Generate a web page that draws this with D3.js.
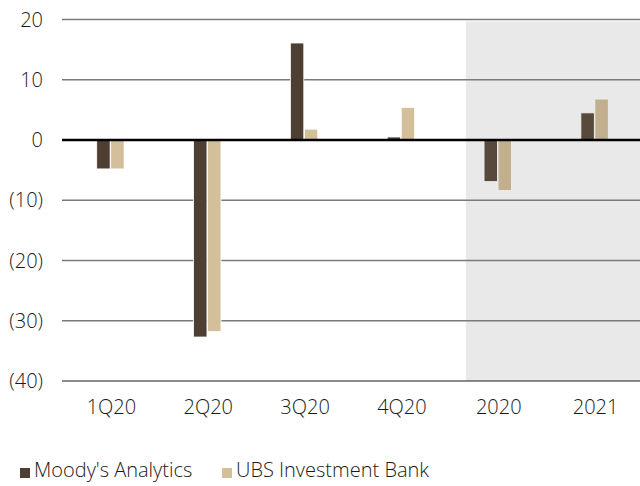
<!DOCTYPE html>
<html>
<head>
<meta charset="utf-8">
<script src="https://cdn.jsdelivr.net/npm/d3@7"></script>
<style>
  body { margin: 0; background: #fff; }
  text { font-family: "Open Sans", "Noto Sans", sans-serif; font-weight: 300; fill: #1a1a1a; }
</style>
</head>
<body>
<svg id="chart" width="640" height="486"></svg>
<script>
// data
const categories = ['1Q20', '2Q20', '3Q20', '4Q20', '2020', '2021'];
const moodys = [-4.8, -32.7, 16.1, 0.5, -6.9, 4.5];
const ubs = [-4.8, -31.8, 1.8, 5.4, -8.4, 6.8];
const seriesNames = ["Moody's Analytics", 'UBS Investment Bank'];
const yTicks = [20, 10, 0, -10, -20, -30, -40];
const shadedFrom = '2020';

const colors = ['#4e3f32', '#d3bf9a'];
const shadedColors = ['#574a3d', '#c1af8e'];

let svg = d3.select('#chart');
let width = parseInt(svg.attr('width'));

let yScale = d3.scaleLinear()
    .domain([-40, 20])
    .range([381, 19.5]);

let xScale = d3.scaleBand()
    .domain(categories)
    .range([62, 643])
    .paddingInner(0.717)
    .paddingOuter(0.3585);

let xSub = d3.scaleBand()
    .domain([0, 1])
    .range([0, xScale.bandwidth()])
    .paddingInner(0.04);

// shaded forecast area
let shadeX = xScale(shadedFrom) + xScale.bandwidth() * 0.5 - xScale.step() * 0.33;
svg.append('rect')
    .attr('x', shadeX)
    .attr('y', yScale(20) + 2)
    .attr('width', width - shadeX)
    .attr('height', yScale(-40) - yScale(20) - 2)
    .style('fill', '#e9e9e9');

// gridlines
svg.selectAll('.grid')
    .data(yTicks)
    .enter()
    .append('line')
    .attr('class', 'grid')
    .attr('x1', 62)
    .attr('x2', width)
    .attr('y1', d => yScale(d))
    .attr('y2', d => yScale(d))
    .style('stroke', d => d === -40 ? '#1a1a1a' : '#7a7a7a')
    .style('stroke-width', d => d === -40 ? 1.2 : 1.4);

// y labels
svg.selectAll('.ylab')
    .data(yTicks)
    .enter()
    .append('text')
    .attr('class', 'ylab')
    .attr('x', 43)
    .attr('y', d => yScale(d))
    .attr('dy', '0.35em')
    .attr('text-anchor', 'end')
    .style('font-size', '20px')
    .text(d => d < 0 ? `(${-d})` : d);

// bars
let rows = categories.map((c, i) => ({cat: c, i: i, vals: [moodys[i], ubs[i]]}));
let inShade = c => categories.indexOf(c) >= categories.indexOf(shadedFrom);

let groups = svg.selectAll('.bars')
    .data(rows)
    .enter()
    .append('g')
    .attr('class', 'bars')
    .attr('transform', d => `translate(${xScale(d.cat)}, 0)`);

groups.selectAll('rect')
    .data(d => d.vals.map((v, s) => ({v: v, s: s, shaded: inShade(d.cat)})))
    .enter()
    .append('rect')
    .attr('x', d => xSub(d.s))
    .attr('width', xSub.bandwidth())
    .attr('y', d => yScale(Math.max(0, d.v)))
    .attr('height', d => Math.abs(yScale(d.v) - yScale(0)))
    .style('fill', d => d.shaded ? shadedColors[d.s] : colors[d.s])
    .style('stroke', d => d.shaded ? '#f2f2f2' : '#ffffff')
    .style('stroke-width', 0.8);

// zero line
svg.append('line')
    .attr('x1', 62)
    .attr('x2', width)
    .attr('y1', yScale(0))
    .attr('y2', yScale(0))
    .style('stroke', '#000')
    .style('stroke-width', 2.4);

// x labels
svg.selectAll('.xlab')
    .data(categories)
    .enter()
    .append('text')
    .attr('class', 'xlab')
    .attr('x', d => xScale(d) + xScale.bandwidth() / 2 + 1)
    .attr('y', 407)
    .attr('dy', '0.35em')
    .attr('text-anchor', 'middle')
    .style('font-size', '20px')
    .text(d => d);

// legend
let legendX = [20, 222];
let legend = svg.selectAll('.legend')
    .data(seriesNames)
    .enter()
    .append('g')
    .attr('class', 'legend')
    .attr('transform', (d, i) => `translate(${legendX[i]}, 470)`);

legend.append('rect')
    .attr('x', 0)
    .attr('y', -2)
    .attr('width', 10)
    .attr('height', 10)
    .style('fill', (d, i) => colors[i]);

legend.append('text')
    .attr('x', 14)
    .attr('y', 0)
    .attr('dy', '0.35em')
    .style('font-size', '20px')
    .text(d => d);
</script>
</body>
</html>
